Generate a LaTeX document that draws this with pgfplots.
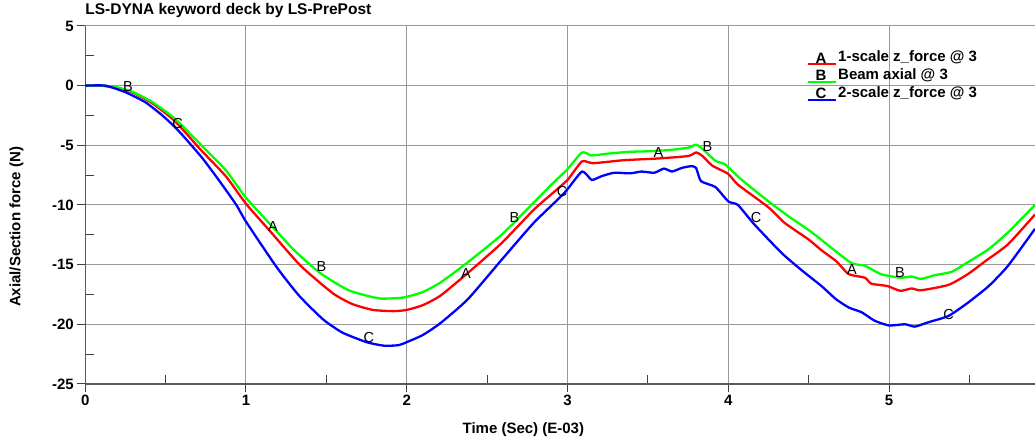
\documentclass[border=0pt]{standalone}
\usepackage{fontspec}
\setmainfont{Liberation Sans}
\usepackage{pgfplots}
\pgfplotsset{compat=1.18}
\newcommand{\lbl}{\fontsize{15}{15}\selectfont\bfseries}
\newcommand{\mk}{\fontsize{14.5}{14.5}\selectfont}
\begin{document}
\begin{tikzpicture}[x=1pt,y=1pt]
\begin{axis}[
  at={(0pt,0pt)}, anchor=south west,
  scale only axis, width=950pt, height=358pt,
  xmin=0, xmax=5.908, ymin=-25, ymax=5,
  axis lines=left,
  axis line style={-, draw=black!65, line width=1.2pt},
  xtick={0,1,2,3,4,5}, minor xtick={0.5,1.5,2.5,3.5,4.5,5.5},
  ytick={-25,-20,-15,-10,-5,0,5},
  yticklabels={-25,-20,-15,-10,-5,0,5},
  xticklabels={0,1,2,3,4,5},
  minor ytick={-22.5,-17.5,-12.5,-7.5,-2.5,2.5},
  grid=major, major grid style={draw=black!40, line width=1pt},
  tick align=outside,
  major tick length=8pt, minor tick length=9pt,
  tick style={draw=black!75, line width=1pt},
  minor x tick style={yshift=9pt},
  minor y tick style={xshift=9pt},
  tick label style={font=\lbl},
  title={LS-DYNA keyword deck by LS-PrePost},
  title style={at={(axis description cs:0,1)}, anchor=base west, inner sep=0pt, yshift=5pt, font=\fontsize{15.5}{15.5}\selectfont\bfseries},
  xlabel={Time (Sec) (E-03)},
  xlabel style={at={(axis description cs:0.4613,0)}, anchor=center, yshift=-46pt, font=\lbl},
  ylabel={Axial/Section force (N)},
  ylabel style={at={(axis description cs:-0.07237,0.4385)}, anchor=center, font=\lbl},
  legend cell align=left,
  legend style={at={(axis description cs:0.7597,0.935)}, anchor=north west, draw=none, fill=none,
    inner sep=0pt, row sep=0pt, column sep=0pt, font=\lbl,
    nodes={inner sep=1.25pt, text height=11pt, text depth=4pt}},
]
\addplot[red, line width=2.3pt, smooth, tension=0.35,
  legend image code/.code={\draw[red, line width=2pt] (0pt,-6pt) -- (28pt,-6pt); \node[black, font=\lbl, inner sep=0pt, anchor=base] at (13pt,-5pt) {A};}]
coordinates {
(0,0) (0.1,0) (0.2,-0.2) (0.3,-0.6) (0.42,-1.5) (0.56,-3.0) (0.72,-5.4) (0.875,-7.6)
(1.0,-9.9) (1.15,-12.2) (1.34,-15.1) (1.54,-17.4) (1.66,-18.3) (1.79,-18.8) (1.92,-18.9)
(2.0,-18.8) (2.1,-18.4) (2.21,-17.6) (2.38,-15.7) (2.59,-13.2) (2.79,-10.4) (2.9,-9.1)
(3.0,-7.9) (3.09,-6.35) (3.16,-6.5) (3.35,-6.25) (3.57,-6.1) (3.75,-5.9) (3.80,-5.6)
(3.84,-5.9) (3.9,-6.7) (4.0,-7.4) (4.06,-8.3) (4.25,-10.2) (4.35,-11.5) (4.5,-12.9)
(4.58,-13.8) (4.67,-14.7) (4.75,-15.8) (4.85,-16.1) (4.89,-16.6) (4.99,-16.8) (5.07,-17.2)
(5.14,-17.0) (5.2,-17.15) (5.37,-16.7) (5.49,-15.8) (5.6,-14.7) (5.74,-13.3) (5.908,-10.8)
};
\addlegendentry{1-scale z\_force @ 3}
\addplot[green, line width=2.3pt, smooth, tension=0.35,
  legend image code/.code={\draw[green, line width=2pt] (0pt,-6pt) -- (28pt,-6pt); \node[black, font=\lbl, inner sep=0pt, anchor=base] at (13pt,-5pt) {B};}]
coordinates {
(0,0) (0.1,0) (0.2,-0.15) (0.3,-0.55) (0.42,-1.4) (0.56,-2.8) (0.73,-5.1) (0.875,-7.1)
(1.0,-9.4) (1.17,-11.9) (1.3,-13.8) (1.46,-15.7) (1.63,-17.1) (1.75,-17.6) (1.84,-17.85)
(1.95,-17.8) (2.0,-17.7) (2.1,-17.3) (2.21,-16.5) (2.38,-14.8) (2.59,-12.5) (2.79,-9.8)
(2.9,-8.3) (3.0,-7.0) (3.09,-5.6) (3.15,-5.85) (3.25,-5.7) (3.38,-5.55) (3.5,-5.5)
(3.63,-5.4) (3.75,-5.2) (3.80,-4.95) (3.84,-5.3) (3.92,-6.3) (3.98,-6.6) (4.08,-7.85)
(4.25,-9.7) (4.38,-11.0) (4.52,-12.3) (4.67,-13.9) (4.77,-14.9) (4.85,-15.1) (4.95,-15.8)
(5.07,-16.1) (5.14,-16.0) (5.2,-16.2) (5.28,-15.9) (5.39,-15.6) (5.49,-14.8) (5.62,-13.7)
(5.74,-12.3) (5.908,-10.0)
};
\addlegendentry{Beam axial @ 3}
\addplot[blue, line width=2.3pt, smooth, tension=0.35,
  legend image code/.code={\draw[blue, line width=2pt] (0pt,-6pt) -- (28pt,-6pt); \node[black, font=\lbl, inner sep=0pt, anchor=base] at (13pt,-5pt) {C};}]
coordinates {
(0,0) (0.125,0) (0.25,-0.55) (0.375,-1.4) (0.48,-2.5) (0.56,-3.5) (0.625,-4.45) (0.73,-6.1)
(0.83,-7.9) (0.94,-10.0) (1.0,-11.4) (1.19,-15.2) (1.33,-17.6) (1.48,-19.6) (1.6,-20.7)
(1.75,-21.5) (1.86,-21.8) (1.95,-21.75) (2.0,-21.5) (2.1,-20.9) (2.21,-19.9) (2.38,-17.9)
(2.59,-14.6) (2.79,-11.5) (2.98,-9.0) (3.09,-7.2) (3.15,-7.9) (3.21,-7.6) (3.29,-7.3)
(3.39,-7.35) (3.46,-7.2) (3.54,-7.3) (3.6,-6.95) (3.65,-7.2) (3.71,-6.9) (3.77,-6.75)
(3.80,-6.9) (3.83,-8.0) (3.92,-8.5) (4.0,-9.7) (4.06,-10.0) (4.16,-11.6) (4.33,-14.0)
(4.45,-15.4) (4.58,-16.8) (4.67,-17.9) (4.75,-18.6) (4.83,-19.0) (4.91,-19.7) (5.0,-20.1)
(5.1,-20.0) (5.16,-20.2) (5.24,-19.85) (5.37,-19.3) (5.49,-18.2) (5.62,-16.8) (5.74,-15.1)
(5.908,-12.0)
};
\addlegendentry{2-scale z\_force @ 3}
\addplot[forget plot, only marks, mark=text, text mark={\mk A}, mark options={black}]
coordinates {(1.168,-11.78) (2.368,-15.72) (3.566,-5.62) (4.77,-15.38)};
\addplot[forget plot, only marks, mark=text, text mark={\mk B}, mark options={black}]
coordinates {(0.266,-0.04) (1.470,-15.13) (2.670,-11.02) (3.871,-5.07) (5.068,-15.63)};
\addplot[forget plot, only marks, mark=text, text mark={\mk C}, mark options={black}]
coordinates {(0.574,-3.19) (1.765,-21.08) (2.966,-8.84) (4.173,-11.02) (5.37,-19.2)};
\end{axis}
\pgfresetboundingbox
\path[use as bounding box] (-85.25pt,-58pt) rectangle (950pt,384pt);
\end{tikzpicture}
\end{document}
